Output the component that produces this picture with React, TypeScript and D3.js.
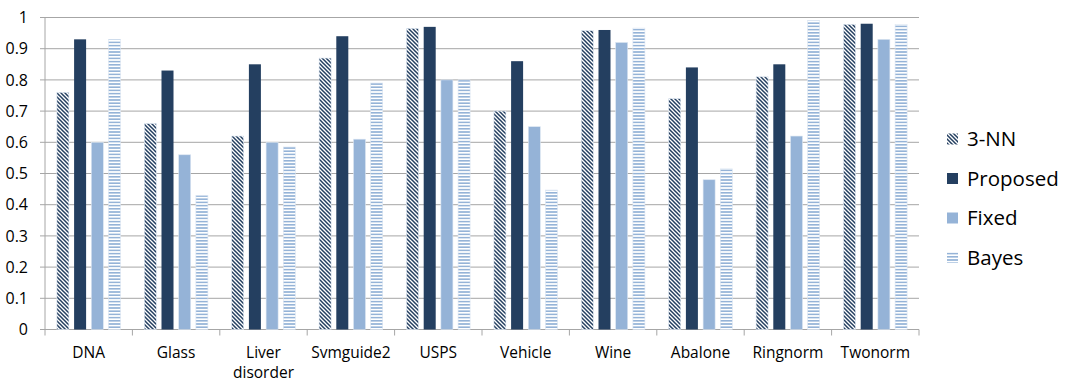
import React from "react";
import * as d3 from "d3";

const categories = ["DNA", "Glass", "Liver disorder", "Svmguide2", "USPS", "Vehicle", "Wine", "Abalone", "Ringnorm", "Twonorm"];
const seriesNames = ["3-NN", "Proposed", "Fixed", "Bayes"];
const nn3 = [0.76, 0.66, 0.62, 0.87, 0.965, 0.70, 0.958, 0.74, 0.81, 0.978];
const proposed = [0.93, 0.83, 0.85, 0.94, 0.97, 0.86, 0.96, 0.84, 0.85, 0.98];
const fixed = [0.60, 0.56, 0.60, 0.61, 0.80, 0.65, 0.92, 0.48, 0.62, 0.93];
const bayes = [0.93, 0.43, 0.585, 0.79, 0.80, 0.447, 0.966, 0.515, 0.99, 0.978];
const yTicks = [0, 0.1, 0.2, 0.3, 0.4, 0.5, 0.6, 0.7, 0.8, 0.9, 1];

const seriesValues = [nn3, proposed, fixed, bayes];
const fills = ["url(#hatch)", "#243f60", "#95b3d7", "url(#hstripe)"];
const FONT = "'Open Sans', sans-serif";

export default function App() {
  const W = 1070, H = 382;
  const left = 45, right = 919, top = 17.5, bottom = 329.5;
  const x = d3.scaleBand<string>().domain(categories).range([left, right]).padding(0);
  const inner = d3.scaleBand<string>().domain(seriesNames).range([11.9, 75.5]).paddingInner(0.302).paddingOuter(0);
  const y = d3.scaleLinear().domain([0, 1]).range([bottom, top]);
  const bw = inner.bandwidth();
  const boundaries = categories.map((c) => x(c) as number).concat([right]);

  return (
    <svg width={W} height={H} style={{ position: "absolute", left: 0, top: 0, background: "#fff" }} fontFamily={FONT}>
      <defs>
        <pattern id="hatch" patternUnits="userSpaceOnUse" width="4" height="4">
          <rect width="4" height="4" fill="#ffffff" />
          <path d="M-1,-1 L5,5 M-1,3 L1,5 M3,-1 L5,1" stroke="#243f60" strokeWidth="1.5" />
        </pattern>
        <pattern id="hstripe" patternUnits="userSpaceOnUse" width="4" height="3.2">
          <rect width="4" height="3.2" fill="#ffffff" />
          <rect width="4" height="1.6" fill="#95b3d7" />
        </pattern>
      </defs>
      <rect width={W} height={H} fill="#fff" />
      {yTicks.map((t) => (
        <g key={t}>
          <line x1={left - 5} x2={right} y1={y(t)} y2={y(t)} stroke="#a6a6a6" strokeWidth={1} />
          <text x={28} y={y(t)} dy="0.35em" textAnchor="end" fontSize={16} fill="#000">
            {t === 0 || t === 1 ? String(t) : t.toFixed(1)}
          </text>
        </g>
      ))}
      <line x1={left} x2={left} y1={top} y2={bottom} stroke="#a6a6a6" />
      {boundaries.map((b, i) => (
        <line key={i} x1={b} x2={b} y1={bottom} y2={bottom + 6} stroke="#a6a6a6" />
      ))}
      {categories.map((c, ci) => (
        <g key={c}>
          {seriesNames.map((s, si) => {
            const v = seriesValues[si][ci];
            const bx = (x(c) as number) + (inner(s) as number);
            return (
              <rect key={s} x={bx} y={y(v)} width={bw} height={bottom - y(v)} fill={fills[si]}
                stroke={si === 1 ? "none" : "#dce6f2"} strokeWidth={si === 1 ? 0 : 0.6} />
            );
          })}
          {c.split(" ").map((line, li) => (
            <text key={li} x={(x(c) as number) + x.bandwidth() / 2} y={357.5 + li * 20.5} textAnchor="middle" fontSize={15.5} fill="#000">
              {line}
            </text>
          ))}
        </g>
      ))}
      {seriesNames.map((s, i) => {
        const cy = 139 + i * 39.5;
        return (
          <g key={s}>
            <rect x={947} y={cy - 5.5} width={11} height={11} fill={fills[i]} />
            <text x={967} y={cy + 7} fontSize={20.5} fill="#000">{s}</text>
          </g>
        );
      })}
    </svg>
  );
}
